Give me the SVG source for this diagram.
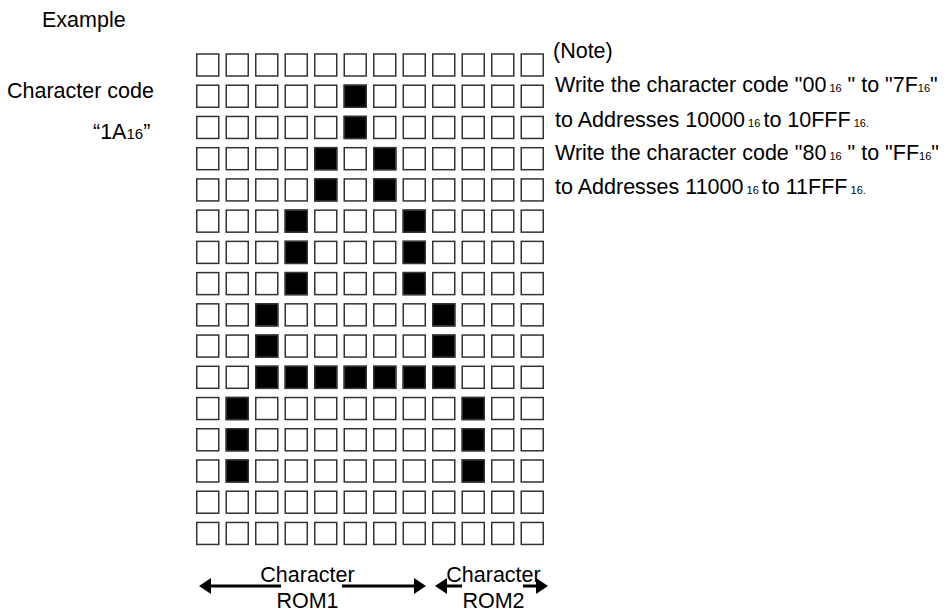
<svg xmlns="http://www.w3.org/2000/svg" width="947" height="612" viewBox="0 0 947 612">
<style>
text{font-family:"Liberation Sans",Arial,sans-serif;fill:#000}
.lbl{font-size:21.5px}
.note{font-size:21.5px}
.s{font-size:11px}
.s2{font-size:15px}
.c{fill:#fff;stroke:#333;stroke-width:1.5}
.on{fill:#000}
.arr{stroke:#000;stroke-width:3;fill:none;marker-end:url(#ah)}
</style>
<defs>
<marker id="ah" markerUnits="userSpaceOnUse" markerWidth="12" markerHeight="16" refX="0" refY="8" orient="auto" viewBox="0 0 12 16">
<path d="M0,0 L12,8 L0,16 Z" fill="#000"/>
</marker>
<g id="row">
<rect class="c" x="196.75" y="0" width="22" height="22"/>
<rect class="c" x="226.25" y="0" width="22" height="22"/>
<rect class="c" x="255.75" y="0" width="22" height="22"/>
<rect class="c" x="285.25" y="0" width="22" height="22"/>
<rect class="c" x="314.75" y="0" width="22" height="22"/>
<rect class="c" x="344.25" y="0" width="22" height="22"/>
<rect class="c" x="373.75" y="0" width="22" height="22"/>
<rect class="c" x="403.25" y="0" width="22" height="22"/>
<rect class="c" x="432.75" y="0" width="22" height="22"/>
<rect class="c" x="462.25" y="0" width="22" height="22"/>
<rect class="c" x="491.75" y="0" width="22" height="22"/>
<rect class="c" x="521.25" y="0" width="22" height="22"/>
</g>
</defs>

<g id="labels">
<text class="lbl" x="42" y="27">Example</text>
<text class="lbl" x="7" y="98">Character code</text>
<text class="lbl" x="93" y="139">“1A<tspan class="s2">16</tspan>”</text>
</g>

<g id="grid">
<g id="r0" transform="translate(0,54)"><use href="#row"/></g>
<g id="r1" transform="translate(0,85.23)"><use href="#row"/><rect class="c on" x="344.25" y="0" width="22" height="22"/></g>
<g id="r2" transform="translate(0,116.46)"><use href="#row"/><rect class="c on" x="344.25" y="0" width="22" height="22"/></g>
<g id="r3" transform="translate(0,147.69)"><use href="#row"/><rect class="c on" x="314.75" y="0" width="22" height="22"/><rect class="c on" x="373.75" y="0" width="22" height="22"/></g>
<g id="r4" transform="translate(0,178.92)"><use href="#row"/><rect class="c on" x="314.75" y="0" width="22" height="22"/><rect class="c on" x="373.75" y="0" width="22" height="22"/></g>
<g id="r5" transform="translate(0,210.15)"><use href="#row"/><rect class="c on" x="285.25" y="0" width="22" height="22"/><rect class="c on" x="403.25" y="0" width="22" height="22"/></g>
<g id="r6" transform="translate(0,241.38)"><use href="#row"/><rect class="c on" x="285.25" y="0" width="22" height="22"/><rect class="c on" x="403.25" y="0" width="22" height="22"/></g>
<g id="r7" transform="translate(0,272.61)"><use href="#row"/><rect class="c on" x="285.25" y="0" width="22" height="22"/><rect class="c on" x="403.25" y="0" width="22" height="22"/></g>
<g id="r8" transform="translate(0,303.84)"><use href="#row"/><rect class="c on" x="255.75" y="0" width="22" height="22"/><rect class="c on" x="432.75" y="0" width="22" height="22"/></g>
<g id="r9" transform="translate(0,335.07)"><use href="#row"/><rect class="c on" x="255.75" y="0" width="22" height="22"/><rect class="c on" x="432.75" y="0" width="22" height="22"/></g>
<g id="r10" transform="translate(0,366.3)"><use href="#row"/><rect class="c on" x="255.75" y="0" width="22" height="22"/><rect class="c on" x="285.25" y="0" width="22" height="22"/><rect class="c on" x="314.75" y="0" width="22" height="22"/><rect class="c on" x="344.25" y="0" width="22" height="22"/><rect class="c on" x="373.75" y="0" width="22" height="22"/><rect class="c on" x="403.25" y="0" width="22" height="22"/><rect class="c on" x="432.75" y="0" width="22" height="22"/></g>
<g id="r11" transform="translate(0,397.53)"><use href="#row"/><rect class="c on" x="226.25" y="0" width="22" height="22"/><rect class="c on" x="462.25" y="0" width="22" height="22"/></g>
<g id="r12" transform="translate(0,428.76)"><use href="#row"/><rect class="c on" x="226.25" y="0" width="22" height="22"/><rect class="c on" x="462.25" y="0" width="22" height="22"/></g>
<g id="r13" transform="translate(0,459.99)"><use href="#row"/><rect class="c on" x="226.25" y="0" width="22" height="22"/><rect class="c on" x="462.25" y="0" width="22" height="22"/></g>
<g id="r14" transform="translate(0,491.22)"><use href="#row"/></g>
<g id="r15" transform="translate(0,522.45)"><use href="#row"/></g>
</g>

<g id="note">
<text class="note" x="553" y="58">(Note)</text>
<text class="note" x="555" y="92">Write the character code "00<tspan class="s"> 16</tspan> " to "7F<tspan class="s">16</tspan>"</text>
<text class="note" x="555" y="127">to Addresses 10000<tspan class="s"> 16 </tspan>to 10FFF<tspan class="s"> 16.</tspan></text>
<text class="note" x="555" y="160">Write the character code "80<tspan class="s"> 16</tspan> " to "FF<tspan class="s">16</tspan>"</text>
<text class="note" x="555" y="194">to Addresses 11000<tspan class="s"> 16 </tspan>to 11FFF<tspan class="s"> 16.</tspan></text>
</g>

<g id="connectors">
<path class="arr" d="M281,586 L211,586"/>
<path class="arr" d="M342,586 L414,586"/>
<path class="arr" d="M462,586 L447,586"/>
<path class="arr" d="M523,586 L536,586"/>
</g>

<g id="rom-labels">
<text class="lbl" x="307.5" y="582" text-anchor="middle">Character</text>
<text class="lbl" x="307.5" y="608" text-anchor="middle">ROM1</text>
<text class="lbl" x="493.5" y="582" text-anchor="middle">Character</text>
<text class="lbl" x="493.5" y="608" text-anchor="middle">ROM2</text>
</g>
</svg>
